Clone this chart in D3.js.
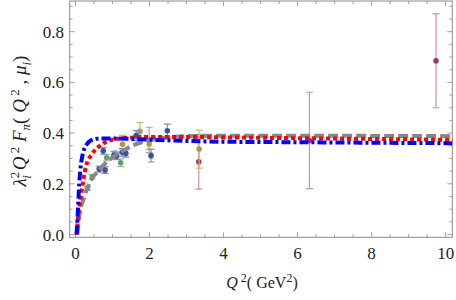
<!DOCTYPE html>
<html><head><meta charset="utf-8">
<script src="https://cdn.jsdelivr.net/npm/d3@7"></script>
<style>body{margin:0;background:#fff}svg{display:block}</style>
</head><body><svg id="c" width="456" height="300" font-family="'Liberation Serif', 'Times New Roman', 'DejaVu Serif', serif"></svg>
<script>
// curves [Q2, value]
const blueCurve = [[0.03,0.0],[0.06,0.08],[0.1,0.2],[0.15,0.28],[0.2,0.32],[0.3,0.355],[0.4,0.37],[0.6,0.378],[1.0,0.379],[1.5,0.377],[2,0.374],[3,0.369],[4,0.366],[6,0.364],[8,0.362],[10.2,0.36]];
const redCurve = [[0.03,0.0],[0.08,0.08],[0.15,0.156],[0.28,0.267],[0.46,0.32],[0.73,0.357],[0.96,0.373],[1.5,0.382],[2,0.385],[3,0.385],[4,0.383],[6,0.38],[8,0.377],[10.2,0.373]];
const grayCurve = [[0.05,0.0],[0.1,0.07],[0.24,0.149],[0.42,0.215],[0.64,0.254],[0.87,0.29],[1.1,0.314],[1.47,0.346],[2.0,0.372],[2.55,0.384],[3.3,0.389],[5,0.39],[8,0.389],[10.2,0.388]];
// data [Q2, value, error]
const blueData = [[0.64,0.258,0.012],[0.75,0.33,0.013],[0.80,0.254,0.013],[1.04,0.314,0.015],[1.11,0.31,0.015],[1.26,0.324,0.015],[1.36,0.32,0.015],[1.64,0.39,0.02],[2.04,0.311,0.025],[2.48,0.409,0.026]];
const greenData = [[0.32,0.182,0.008],[0.45,0.228,0.009],[0.84,0.303,0.012],[1.22,0.283,0.015]];
const oliveData = [[1.27,0.356,0.035],[1.74,0.407,0.034],[1.99,0.357,0.02],[3.34,0.337,0.075]];
const magentaData = [[1.99,0.373,0.05],[3.33,0.287,0.108],[6.32,0.371,0.19],[9.74,0.685,0.185]];
const xTicks = [0,2,4,6,8,10];
const yTicks = [0.0,0.2,0.4,0.6,0.8];

const svg = d3.select("#c");
const L=69.7,R=452.3,T=1,B=237.3;
const x = d3.scaleLinear().domain([-0.157,10.18]).range([L,R]);
const y = d3.scaleLinear().domain([-0.011,0.921]).range([B,T]);

const frame="#8c8c8c";
const xMinor = d3.range(0,10.01,0.5);
const yMinor = d3.range(0,0.901,0.05);
const g = svg.append("g");
xMinor.forEach(v=>{
  const major = xTicks.some(t=>Math.abs(t-v)<1e-6);
  const len = major?5:3;
  g.append("line").attr("x1",x(v)).attr("x2",x(v)).attr("y1",B).attr("y2",B-len).attr("stroke",frame).attr("stroke-width",0.8);
  g.append("line").attr("x1",x(v)).attr("x2",x(v)).attr("y1",T).attr("y2",T+len).attr("stroke",frame).attr("stroke-width",0.8);
});
yMinor.forEach(v=>{
  const major = yTicks.some(t=>Math.abs(t-v)<1e-6);
  const len = major?5:3;
  g.append("line").attr("x1",L).attr("x2",L+len).attr("y1",y(v)).attr("y2",y(v)).attr("stroke",frame).attr("stroke-width",0.8);
  g.append("line").attr("x1",R).attr("x2",R-len).attr("y1",y(v)).attr("y2",y(v)).attr("stroke",frame).attr("stroke-width",0.8);
});
svg.append("rect").attr("x",L).attr("y",T).attr("width",R-L).attr("height",B-T).attr("fill","none").attr("stroke",frame).attr("stroke-width",1);

svg.selectAll(".xl").data(xTicks).enter().append("text").attr("x",d=>x(d)).attr("y",259).attr("text-anchor","middle").attr("font-size",17).attr("fill","#222").text(d=>d);
svg.selectAll(".yl").data(yTicks).enter().append("text").attr("x",64).attr("y",d=>y(d)+6).attr("text-anchor","end").attr("font-size",17).attr("fill","#222").text(d=>d.toFixed(1));

const xt = svg.append("text").attr("x",262).attr("y",288).attr("text-anchor","middle").attr("font-size",16).attr("fill","#222");
xt.append("tspan").attr("font-style","italic").text("Q");
xt.append("tspan").attr("dy",-6).attr("font-size",12).text(" 2");
xt.append("tspan").attr("dy",6).text("( GeV");
xt.append("tspan").attr("dy",-6).attr("font-size",12).text("2");
xt.append("tspan").attr("dy",6).text(")");

const yt = svg.append("text").attr("transform","translate(26,121) rotate(-90)").attr("text-anchor","middle").attr("font-size",19).attr("fill","#222");
yt.append("tspan").attr("font-style","italic").text("λ");
yt.append("tspan").attr("dy",-7).attr("font-size",13).text("2");
yt.append("tspan").attr("dx",-7).attr("dy",12).attr("font-size",13).attr("font-style","italic").text("i");
yt.append("tspan").attr("dy",-5).attr("font-style","italic").text(" Q");
yt.append("tspan").attr("dy",-7).attr("font-size",13).text(" 2");
yt.append("tspan").attr("dy",7).attr("font-style","italic").text(" F");
yt.append("tspan").attr("dy",4).attr("font-size",13).attr("font-style","italic").text("π");
yt.append("tspan").attr("dy",-4).text("(");
yt.append("tspan").attr("font-style","italic").text(" Q");
yt.append("tspan").attr("dy",-7).attr("font-size",13).text(" 2");
yt.append("tspan").attr("dy",7).text(" , ");
yt.append("tspan").attr("font-style","italic").text("μ");
yt.append("tspan").attr("dy",5).attr("font-size",13).attr("font-style","italic").text("i");
yt.append("tspan").attr("dy",-5).text(")");

svg.append("clipPath").attr("id","cp").append("rect").attr("x",L).attr("y",T).attr("width",R-L).attr("height",B-T);
const plot = svg.append("g").attr("clip-path","url(#cp)");

function drawData(data, barCol, ptCol){
  data.forEach(d=>{
    const cx=x(d[0]), y1=y(d[1]-d[2]), y2=y(d[1]+d[2]);
    plot.append("line").attr("x1",cx).attr("x2",cx).attr("y1",y1).attr("y2",y2).attr("stroke",barCol).attr("stroke-width",1.2);
    [y1,y2].forEach(yy=>plot.append("line").attr("x1",cx-3.5).attr("x2",cx+3.5).attr("y1",yy).attr("y2",yy).attr("stroke",barCol).attr("stroke-width",1.2));
    plot.append("circle").attr("cx",cx).attr("cy",y(d[1])).attr("r",2.8).attr("fill",ptCol);
  });
}
drawData(magentaData,"#c98fb0","#9b3b72");
drawData(oliveData,"#c9bb6e","#a99a42");
drawData(greenData,"#8fc79a","#5ea56c");
drawData(blueData,"#7d8cc9","#3f4f9e");

const line = d3.line().x(d=>x(d[0])).y(d=>y(d[1])).curve(d3.curveMonotoneX);
plot.append("path").attr("d",line(grayCurve)).attr("fill","none").attr("stroke","#878787").attr("stroke-width",4).attr("stroke-dasharray","10,4");
plot.append("path").attr("d",line(redCurve)).attr("fill","none").attr("stroke","#ff0000").attr("stroke-width",4).attr("stroke-dasharray","4,3");
plot.append("path").attr("d",line(blueCurve)).attr("fill","none").attr("stroke","#0000ff").attr("stroke-width",4).attr("stroke-dasharray","9,3,3,3");
</script></body></html>
